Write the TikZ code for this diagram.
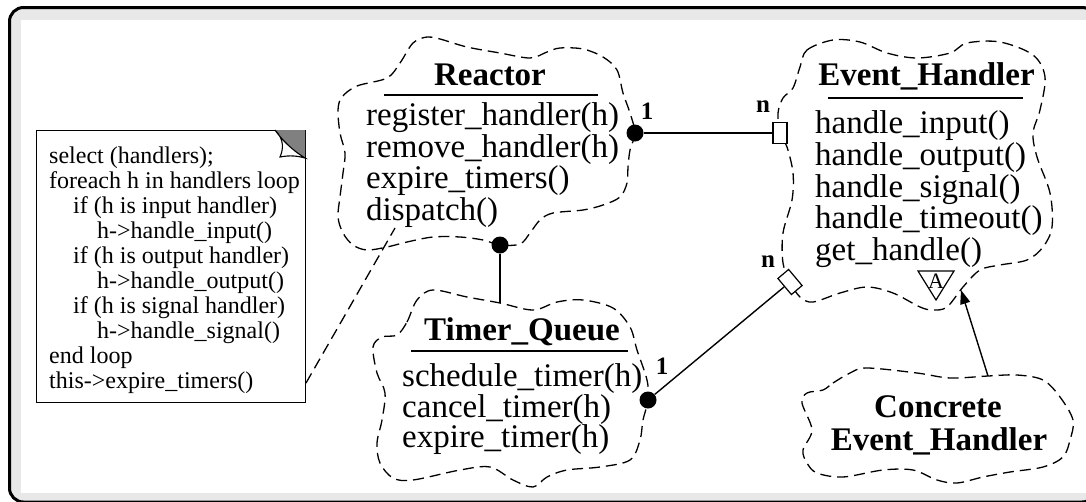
\documentclass[tikz,border=0pt]{standalone}
\usepackage{fontspec}
\setmainfont{Liberation Serif}
\usetikzlibrary{arrows.meta}
\definecolor{bandgray}{HTML}{E8E8E8}
\definecolor{foldgray}{HTML}{808080}
\tikzset{
  cloudline/.style={dash pattern=on 11pt off 6pt, line width=1.3pt},
  methodtxt/.style={font=\fontsize{33}{32}\selectfont, anchor=base west, inner sep=0},
  titletxt/.style={font=\fontsize{33}{32}\selectfont\bfseries, anchor=base, inner sep=0},
  notetxt/.style={font=\fontsize{24}{25}\selectfont, anchor=base west, inner sep=0},
  multtxt/.style={font=\fontsize{25}{25}\selectfont\bfseries, inner sep=0},
  dotend/.style={circle, fill=black, inner sep=0, minimum size=17},
  boxend/.style={draw, fill=white, line width=1.2pt, minimum width=14, minimum height=21, inner sep=0},
  link/.style={line width=1.4pt},
  rule/.style={line width=1.3pt}
}
\begin{document}
\begin{tikzpicture}[x=1pt,y=-1pt]
\useasboundingbox (0,0) rectangle (1086,501);

% frame with grey band
\draw[line width=3pt, fill=bandgray, rounded corners=14pt] (9.5,7.5) rectangle (1096,502);
\fill[white] (21,20) rectangle (1086,493);

% ---------- clouds ----------
\draw[cloudline] plot[smooth cycle, tension=0.55] coordinates {
 (342,97) (357,86) (387,78) (400,63) (413,43) (427,37) (440,39) (467,47) (500,53)
 (530,58) (547,52) (560,48) (583,49) (603,57) (617,70) (623,93) (630,113) (635,133)
 (630,150) (628,167) (627,183) (620,197) (603,205) (583,210) (553,213) (540,220)
 (530,233) (520,244) (500,245) (483,240) (460,237) (433,237) (407,242) (387,247)
 (367,250) (353,245) (343,233) (338,217) (340,197) (343,173) (345,153) (340,133)
 (338,110)};

\draw[cloudline] plot[smooth cycle, tension=0.55] coordinates {
 (800,67) (807,50) (833,40) (860,42) (887,53) (917,58) (950,53) (967,43) (1000,42)
 (1033,55) (1045,77) (1040,110) (1033,133) (1037,157) (1050,193) (1052,227) (1043,247)
 (1027,260) (1000,265) (980,270) (963,287) (947,307) (933,310) (920,307) (893,293)
 (867,287) (840,293) (813,302) (800,297) (790,282) (783,263) (783,233) (792,200)
 (793,173) (787,147) (780,133) (778,113) (783,98) (793,88)};

\draw[cloudline] plot[smooth cycle, tension=0.55] coordinates {
 (397,335) (407,322) (417,300) (433,290) (467,297) (500,303) (533,310) (557,302)
 (583,300) (613,308) (630,327) (637,350) (647,380) (648,400) (643,420) (640,440)
 (630,460) (600,467) (567,470) (547,477) (533,487) (513,480) (490,467) (460,470)
 (413,480) (393,478) (380,463) (377,443) (382,420) (385,393) (377,373) (373,347)
 (382,337)};

\draw[cloudline] plot[smooth cycle, tension=0.55] coordinates {
 (823,390) (833,383) (850,373) (867,368) (917,373) (950,378) (988,376) (1017,375)
 (1043,380) (1060,397) (1073,420) (1070,440) (1063,457) (1043,467) (1010,472)
 (983,477) (957,483) (937,480) (913,470) (883,470) (843,477) (817,473) (807,463)
 (803,450) (812,430) (802,403) (807,393)};

% ---------- Reactor ----------
\node[titletxt] (rtitle) at (490,85) {Reactor};
\draw[rule] (384,95) -- (598,95);
\foreach \i/\y/\t in {1/125/{register\_handler(h)}, 2/157/{remove\_handler(h)},
                      3/188/{expire\_timers()}, 4/220/{dispatch()}}
  \node[methodtxt] (rm\i) at (366,\y) {\t};

% ---------- Event_Handler ----------
\node[titletxt] (etitle) at (926.5,85) {Event\_Handler};
\draw[rule] (828,98) -- (1023,98);
\foreach \i/\y/\t in {1/133/{handle\_input()}, 2/165/{handle\_output()},
                      3/197/{handle\_signal()}, 4/228/{handle\_timeout()},
                      5/260/{get\_handle()}}
  \node[methodtxt] (em\i) at (815,\y) {\t};
\draw[line width=1.2pt] (918,271) -- (954,271) -- (936,300) -- cycle;
\node[inner sep=0, font=\fontsize{22}{22}\selectfont] (abstr) at (936,281) {A};

% ---------- Timer_Queue ----------
\node[titletxt] (ttitle) at (522,340) {Timer\_Queue};
\draw[rule] (411,351) -- (628,351);
\foreach \i/\y/\t in {1/386/{schedule\_timer(h)}, 2/417/{cancel\_timer(h)},
                      3/447/{expire\_timer(h)}}
  \node[methodtxt] (tm\i) at (402,\y) {\t};

% ---------- Concrete Event_Handler ----------
\node[titletxt] (ctitle1) at (938,417) {Concrete};
\node[titletxt] (ctitle2) at (939,450) {Event\_Handler};

% ---------- note ----------
\node[draw, line width=1.1pt, anchor=north west, minimum width=269, minimum height=272, inner sep=0] (note) at (36,130) {};
\fill[foldgray] (275,130) -- (305,130) -- (305,158) .. controls (292,150) and (282,140) .. cycle;
\draw[line width=1.1pt, fill=white] (275,130) .. controls (285,140) and (283,150) .. (280,157)
   .. controls (290,155) and (298,156) .. (305,158)
   .. controls (292,150) and (282,140) .. cycle;
\foreach \i/\x/\t in {0/49/{select (handlers);}, 1/49/{foreach h in handlers loop},
   2/73/{if (h is input handler)}, 3/97/{h->handle\_input()},
   4/73/{if (h is output handler)}, 5/97/{h->handle\_output()},
   6/73/{if (h is signal handler)}, 7/97/{h->handle\_signal()},
   8/49/{end loop}, 9/49/{this->expire\_timers()}}
  \node[notetxt] (nl\i) at (\x,163+25*\i) {\t};

% ---------- connector ends ----------
\node[dotend] (rdot) at (635,133) {};
\node[boxend] (ehbox) at (780,133) {};
\node[dotend] (rdot2) at (500,245) {};
\coordinate (tqtop) at (500,303);
\node[dotend] (tqdot) at (648,400) {};
\node[boxend, rotate=40] (ehdiam) at (790,282) {};
\coordinate (cetop) at (988,376);
\coordinate (ehtip) at (961,290);
\coordinate (notept) at (306,383);
\coordinate (reactpt) at (395,228);

% ---------- connectors ----------
\draw[link] (rdot) -- (ehbox);
\draw[link] (rdot2) -- (tqtop);
\draw[link] (tqdot) -- (ehdiam);
\draw[link, -{Triangle[length=14pt,width=10pt]}] (cetop) -- (ehtip);
\draw[cloudline] (notept) -- (reactpt);

% ---------- multiplicities ----------
\node[multtxt] (m1) at (647,111) {1};
\node[multtxt] (m2) at (763,107) {n};
\node[multtxt] (m3) at (662,366) {1};
\node[multtxt] (m4) at (768,262) {n};

\end{tikzpicture}
\end{document}
